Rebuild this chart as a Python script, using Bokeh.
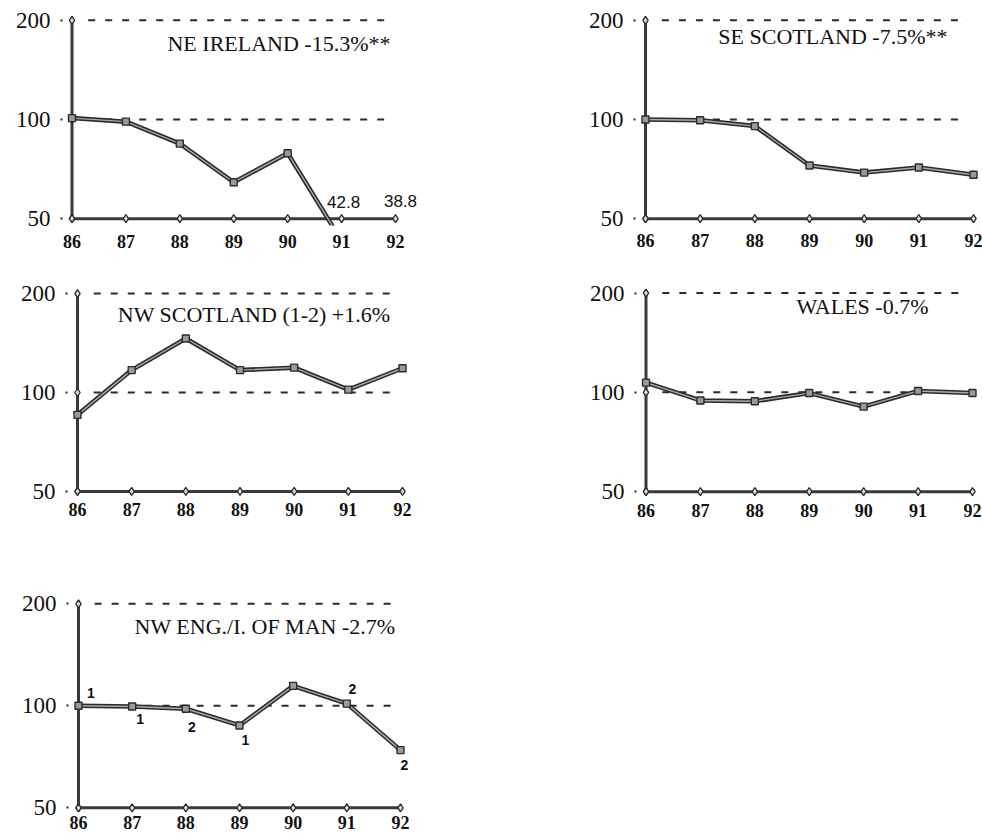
import math

from bokeh.core.properties import value
from bokeh.embed import file_html
from bokeh.layouts import column, row
from bokeh.models import ColumnDataSource, FixedTicker, Label, NumeralTickFormatter, Range1d
from bokeh.plotting import figure
from bokeh.resources import INLINE

# ---- data -------------------------------------------------------------
years = [86, 87, 88, 89, 90, 91, 92]
year_labels = ["86", "87", "88", "89", "90", "91", "92"]
index_ticks = [50, 100, 200]
index_labels = ["50", "100", "200"]

ne_ireland = [101.0, 98.5, 84.5, 64.5, 79.0, 42.8, 38.8]
se_scotland = [100.0, 99.5, 95.5, 72.5, 69.0, 71.5, 68.0]
nw_scotland = [85.5, 117.0, 146.0, 117.0, 119.0, 102.0, 118.5]
wales = [107.0, 94.5, 94.0, 99.5, 90.5, 101.0, 99.5]
nw_england = [100.0, 99.5, 98.0, 87.5, 114.5, 101.5, 74.0]
nw_england_codes = ["1", "1", "2", "1", "", "2", "2"]

titles = [
    "NE IRELAND -15.3%**",
    "SE SCOTLAND -7.5%**",
    "NW SCOTLAND (1-2) +1.6%",
    "WALES -0.7%",
    "NW ENG./I. OF MAN -2.7%",
]

# ---- page layout (pixels) ----------------------------------------------
LEFT_W, RIGHT_W = 520, 462
ROWS = [(0, 270), (270, 553), (553, 838)]

# x of year 86 / 92, y of the 200 / 50 levels, gap below the axis to the
# year labels, bottom padding under the 50 level, room right of year 92,
# title anchor (right, middle)
panels = [
    dict(col=0, row=0, x86=71.5, x92=395, y200=20, y50=223, gap=9, pad=7, room=28, tx=390, ty=44),
    dict(col=1, row=0, x86=645, x92=973, y200=14, y50=218, gap=8, pad=7, room=8, tx=947, ty=31),
    dict(col=0, row=1, x86=77, x92=402, y200=293.3, y50=497.7, gap=4, pad=7, room=28, tx=390, ty=315),
    dict(col=1, row=1, x86=645.5, x92=972, y200=286.7, y50=491, gap=5, pad=7, room=8, tx=928, ty=301),
    dict(col=0, row=2, x86=78, x92=400, y200=603.3, y50=807.3, gap=3, pad=5, room=28, tx=395, ty=626),
]

SERIF = "Liberation Serif"
SANS = "Liberation Sans"
INK = "#2b2b2b"


def make_panel(values, title, g):
    col_x = 0 if g["col"] == 0 else LEFT_W
    fig_w = LEFT_W if g["col"] == 0 else RIGHT_W
    row_top, row_bot = ROWS[g["row"]]

    step = (g["x92"] - g["x86"]) / 6.0
    octave = (g["y50"] - g["y200"]) / 2.0

    left = round(g["x86"] - 10)
    right = min(round(g["x92"] + g["room"]), col_x + fig_w)
    top = round(g["y200"] - 7)
    bottom = round(g["y50"] + g["pad"])

    x_start = years[0] - (g["x86"] - left) / step
    x_end = years[0] + (right - g["x86"]) / step
    y_end = index_ticks[-1] * 2 ** ((g["y200"] - top) / octave)
    y_start = index_ticks[0] * 2 ** (-(bottom - g["y50"]) / octave)

    p = figure(
        width=fig_w,
        height=row_bot - row_top,
        x_range=Range1d(x_start, x_end),
        y_range=Range1d(y_start, y_end),
        y_axis_type="log",
        min_border_left=left - col_x,
        min_border_right=col_x + fig_w - right,
        min_border_top=top - row_top,
        min_border_bottom=row_bot - bottom,
        output_backend="svg",
        toolbar_location=None,
        background_fill_color="white",
        border_fill_color="white",
    )
    p.outline_line_color = None
    p.grid.visible = False

    # year labels along the bottom
    p.xaxis.ticker = FixedTicker(ticks=years)
    p.xaxis.formatter = NumeralTickFormatter(format="0")
    p.xaxis.major_label_overrides = dict(zip(years, year_labels))
    p.xaxis.axis_line_color = None
    p.xaxis.major_tick_line_color = None
    p.xaxis.minor_tick_line_color = None
    p.xaxis.major_tick_out = 0
    p.xaxis.major_tick_in = 0
    p.xaxis.major_label_standoff = g["gap"]
    p.xaxis.major_label_text_font = SERIF
    p.xaxis.major_label_text_font_style = "bold"
    p.xaxis.major_label_text_font_size = "18px"
    p.xaxis.major_label_text_color = "#111111"

    # index levels on the left, with a small dot as tick
    p.yaxis.ticker = FixedTicker(ticks=index_ticks)
    p.yaxis.formatter = NumeralTickFormatter(format="0")
    p.yaxis.major_label_overrides = dict(zip(index_ticks, index_labels))
    p.yaxis.axis_line_color = None
    p.yaxis.minor_tick_line_color = None
    p.yaxis.major_tick_out = 2
    p.yaxis.major_tick_in = 0
    p.yaxis.major_tick_line_width = 2
    p.yaxis.major_tick_line_color = INK
    p.yaxis.major_label_standoff = 10
    p.yaxis.major_label_text_font = SERIF
    p.yaxis.major_label_text_font_size = "23px"
    p.yaxis.major_label_text_color = "#111111"

    # dashed reference levels
    for lvl in index_ticks[1:]:
        p.line([years[0] + 0.3, years[-1] - 0.1], [lvl, lvl],
               line_color=INK, line_width=2, line_dash="7 10")

    # drawn axes with diamond marks
    p.line([years[0], years[-1]], [index_ticks[0]] * 2, line_color="#3a3a3a", line_width=3)
    p.line([years[0], years[0]], [index_ticks[0], index_ticks[-1]], line_color="#3a3a3a", line_width=3)
    p.scatter(years, [index_ticks[0]] * len(years), marker="diamond", size=8,
              fill_color="#dddddd", line_color=INK, line_width=1.3)
    p.scatter([years[0]] * len(index_ticks), index_ticks, marker="diamond", size=8,
              fill_color="#dddddd", line_color=INK, line_width=1.3)

    # the series: dark stroke with a lighter core, square point marks
    p.line(years, values, line_color=INK, line_width=4.5, line_join="round")
    p.line(years, values, line_color="#a9a9a9", line_width=1.4, line_join="round")
    p.scatter(years, values, marker="square", size=7,
              fill_color="#9a9a9a", line_color=INK, line_width=1.4)

    p.add_layout(Label(
        x=years[0] + (g["tx"] - g["x86"]) / step,
        y=index_ticks[-1] * 2 ** (-(g["ty"] - g["y200"]) / octave),
        text=title, text_align="right", text_baseline="middle",
        text_font=SERIF, text_font_size="22px", text_color="#111111",
    ))
    return p


p1 = make_panel(ne_ireland, titles[0], panels[0])
p2 = make_panel(se_scotland, titles[1], panels[1])
p3 = make_panel(nw_scotland, titles[2], panels[2])
p4 = make_panel(wales, titles[3], panels[3])
p5 = make_panel(nw_england, titles[4], panels[4])

# values that fall below the scale are written just above the axis
low_x = [yr for yr, v in zip(years, ne_ireland) if v < index_ticks[0]]
low_v = [v for v in ne_ireland if v < index_ticks[0]]
p1.text(
    source=ColumnDataSource(dict(
        x=low_x,
        y=[index_ticks[0]] * len(low_x),
        t=[f"{v:.1f}" for v in low_v],
        dx=[2, 5][: len(low_x)],
        dy=[-17, -18][: len(low_x)],
    )),
    x="x", y="y", text="t", x_offset="dx", y_offset="dy",
    text_align="center", text_baseline="middle",
    text_font=value(SANS), text_font_size="17px", text_color="#111111",
)

# period codes beside the NW England points
code_dx = [12.5, 8, 6, 6, 0, 5.5, 4]
code_dy = [-13, 12, 18, 15, 0, -15, 15]
p5.text(
    source=ColumnDataSource(dict(x=years, y=nw_england, t=nw_england_codes, dx=code_dx, dy=code_dy)),
    x="x", y="y", text="t", x_offset="dx", y_offset="dy",
    text_align="center", text_baseline="middle",
    text_font=value(SANS), text_font_style="bold", text_font_size="14px", text_color="#111111",
)

layout = column(row(p1, p2), row(p3, p4), row(p5))

open("out.html", "w").write(file_html(layout, INLINE))
